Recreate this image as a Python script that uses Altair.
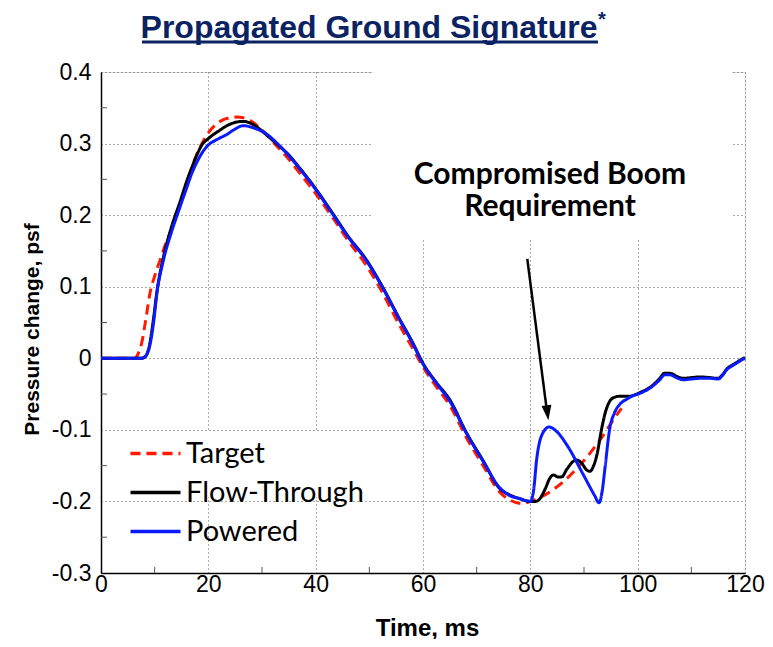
import altair as alt
import pandas as pd

# ---------------- data ----------------
time_target = [0, 6.3, 6.9, 7.6, 8.3, 9.1, 10.0, 11.0, 12.2, 13.2, 14.7, 16.0, 16.9, 17.8, 18.8,
               20.0, 22.2, 24.0, 25.3, 26.5, 27.8, 30.0, 32.7, 35.0, 37.0, 39.6, 43.3, 46.0,
               49.5, 52.0, 55.7, 58.0, 60.0, 62.5, 65.0, 68.1, 71.2, 74.3, 76.2, 78.4, 80.0,
               93.0, 96.1, 97.0]
p_target = [0, 0, 0.006, 0.022, 0.052, 0.090, 0.115, 0.137, 0.163, 0.181, 0.215, 0.246, 0.266,
            0.284, 0.300, 0.315, 0.331, 0.336, 0.337, 0.336, 0.332, 0.319, 0.297, 0.278, 0.259,
            0.234, 0.195, 0.165, 0.129, 0.098, 0.045, 0.015, -0.012, -0.040, -0.066, -0.111,
            -0.150, -0.187, -0.198, -0.203, -0.200, -0.114, -0.079, -0.070]

time_flow = [0, 7.5, 8.2, 9.0, 9.8, 10.4, 11.6, 13.2, 14.7, 16.0, 16.9, 17.8, 18.8, 20.0, 22.0,
             24.0, 26.5, 28.0, 29.6, 31.0, 33.0, 35.0, 37.0, 39.6, 43.3, 46.0, 49.5, 52.0, 55.7,
             58.0, 60.0, 62.5, 65.0, 68.1, 71.2, 74.3, 76.2, 78.0, 80.0, 81.0, 81.8, 82.8, 83.6,
             84.3, 85.2, 85.8, 86.8, 88.0, 88.6, 89.5, 90.5, 91.1, 91.8, 92.4, 93.3, 94.0, 94.8,
             95.5, 96.7, 98.5, 99.5, 100.4, 102.6, 104.0, 105.0, 106.0, 107.5, 108.5, 110.0,
             111.6, 113.5, 115.0, 115.8, 116.6, 117.5, 118.4, 119.2, 120.0]
p_flow = [0, 0, 0.002, 0.017, 0.056, 0.092, 0.140, 0.185, 0.218, 0.248, 0.266, 0.283, 0.298,
          0.307, 0.318, 0.327, 0.331, 0.328, 0.320, 0.311, 0.298, 0.284, 0.266, 0.241, 0.201,
          0.171, 0.137, 0.106, 0.054, 0.023, -0.007, -0.034, -0.058, -0.104, -0.143, -0.182,
          -0.191, -0.196, -0.200, -0.200, -0.196, -0.182, -0.168, -0.163, -0.166, -0.166,
          -0.155, -0.144, -0.142, -0.146, -0.156, -0.158, -0.150, -0.135, -0.098, -0.075,
          -0.060, -0.055, -0.053, -0.053, -0.051, -0.048, -0.039, -0.029, -0.021, -0.021,
          -0.026, -0.028, -0.027, -0.026, -0.027, -0.028, -0.023, -0.015, -0.010, -0.006,
          -0.002, 0.001]

time_powered = [0, 7.5, 8.2, 9.0, 9.8, 10.4, 11.6, 13.2, 14.7, 16.0, 16.9, 17.8, 19.1, 20.3,
                21.2, 22.2, 23.5, 24.7, 26.5, 28.4, 30.9, 33.0, 35.0, 37.0, 39.6, 43.3, 46.0,
                49.5, 52.0, 55.7, 58.0, 60.0, 62.5, 65.0, 68.1, 71.2, 74.3, 76.2, 78.0, 80.0,
                80.6, 81.2, 82.1, 83.5, 85.0, 86.8, 89.9, 92.0, 92.8, 93.4, 93.9, 94.8, 95.7,
                96.7, 98.0, 99.2, 100.4, 102.6, 104.0, 105.1, 106.0, 107.2, 108.5, 110.0, 111.6,
                113.5, 115.0, 115.8, 116.6, 117.5, 118.4, 119.2, 120.0]
p_powered = [0, 0, 0.002, 0.015, 0.050, 0.090, 0.136, 0.178, 0.211, 0.239, 0.258, 0.273, 0.290,
             0.300, 0.304, 0.308, 0.313, 0.319, 0.325, 0.322, 0.313, 0.299, 0.283, 0.265, 0.240,
             0.200, 0.170, 0.136, 0.105, 0.053, 0.022, -0.008, -0.035, -0.060, -0.105, -0.144,
             -0.181, -0.192, -0.196, -0.200, -0.185, -0.140, -0.108, -0.096, -0.103, -0.121,
             -0.163, -0.192, -0.202, -0.185, -0.154, -0.098, -0.076, -0.064, -0.057, -0.052,
             -0.049, -0.040, -0.031, -0.023, -0.023, -0.027, -0.030, -0.029, -0.028, -0.028,
             -0.029, -0.024, -0.016, -0.011, -0.007, -0.003, 0.0]

series_names = ["Target", "Flow-Through", "Powered"]
series_colors = ["#ff1a00", "#000000", "#0a1aff"]
series_dashes = [[10, 6], [1, 0], [1, 0]]

x_ticks = [0, 20, 40, 60, 80, 100, 120]
y_ticks = [-0.3, -0.2, -0.1, 0, 0.1, 0.2, 0.3, 0.4]
x_minor = [10, 30, 50, 70, 90, 110]
y_minor = [0.35, 0.25, 0.15, 0.05, -0.05, -0.15, -0.25]

arrow_t = [79.43, 83.0]
arrow_p = [0.139, -0.0686]
head_t = [83.18]
head_p = [-0.0763]

title_text = "Propagated Ground Signature"
title_mark = "*"
annotation_text = ["Compromised Boom", "Requirement"]
x_title = "Time, ms"
y_title = "Pressure change, psf"

# ---------------- build tables ----------------
rows = []
for name, ts, ps in zip(series_names, [time_target, time_flow, time_powered],
                        [p_target, p_flow, p_powered]):
    for t, p in zip(ts, ps):
        rows.append({"series": name, "t": t, "p": p})
df = pd.DataFrame(rows)

W, H = 644, 501
NAVY = "#0b2263"

xscale = alt.Scale(domain=[0, 120], nice=False, zero=False)
yscale = alt.Scale(domain=[-0.3, 0.4], nice=False, zero=False)

legend = alt.Legend(
    title=None, orient="none", legendX=40, legendY=367, padding=0,
    symbolType="M-2.5,0H2.5", symbolSize=400, symbolStrokeWidth=3.5,
    labelFont="Lato", labelFontSize=29, labelColor="black", labelOffset=16,
    rowPadding=9, labelLimit=400,
)

lines = alt.Chart(df).mark_line(strokeWidth=3, interpolate="monotone").encode(
    x=alt.X("t:Q", scale=xscale, axis=alt.Axis(
        values=x_ticks, grid=True, gridDash=[1, 3], gridColor="#555", gridWidth=1,
        ticks=False, domainColor="black", domainWidth=1.5, format="d",
        labelFont="Liberation Sans", labelFontSize=23, labelColor="black",
        labelPadding=0, labelFlush=False, labelOverlap=False,
        title=x_title, titleFont="Liberation Sans", titleFontSize=24,
        titleFontWeight="bold", titleColor="black", titlePadding=20, titleX=326)),
    y=alt.Y("p:Q", scale=yscale, axis=alt.Axis(
        values=y_ticks, grid=True, gridDash=[1, 3], gridColor="#555", gridWidth=1,
        ticks=False, domainColor="black", domainWidth=1.5,
        labelExpr="replace(format(datum.value, '.1~f'), '\u2212', '-')",
        labelFont="Liberation Sans", labelFontSize=23, labelColor="black",
        labelPadding=10, labelFlush=False, labelOverlap=False,
        title=y_title, titleFont="Liberation Sans", titleFontSize=21,
        titleFontWeight="bold", titleColor="black", titlePadding=9, titleY=257)),
    color=alt.Color("series:N", scale=alt.Scale(domain=series_names, range=series_colors),
                    legend=legend),
    strokeDash=alt.StrokeDash("series:N",
                              scale=alt.Scale(domain=series_names, range=series_dashes),
                              legend=legend),
    detail="series:N",
)

one = pd.DataFrame({"k": [0]})

# white boxes behind legend and annotation (hide grid like the reference)
legend_box = alt.Chart(one).mark_rect(color="white").encode(
    x=alt.value(8), x2=alt.value(271), y=alt.value(360), y2=alt.value(425))
note_box = alt.Chart(one).mark_rect(color="white").encode(
    x=alt.value(272), x2=alt.value(631), y=alt.value(-1), y2=alt.value(168))

xminor = alt.Chart(pd.DataFrame({"t": x_minor})).mark_rule(color="#555", strokeWidth=1).encode(
    x=alt.X("t:Q", scale=xscale), y=alt.value(H), y2=alt.value(H - 6))
yminor = alt.Chart(pd.DataFrame({"p": y_minor})).mark_rule(color="#555", strokeWidth=1).encode(
    y=alt.Y("p:Q", scale=yscale), x=alt.value(0), x2=alt.value(6))

shaft = alt.Chart(pd.DataFrame({"t": arrow_t, "p": arrow_p})).mark_line(
    color="black", strokeWidth=2.5).encode(
    x=alt.X("t:Q", scale=xscale), y=alt.Y("p:Q", scale=yscale))
head = alt.Chart(pd.DataFrame({"t": head_t, "p": head_p})).mark_point(
    shape="M-0.66,-1L0.66,-1L0,1Z", size=225, filled=True, color="black",
    opacity=1, strokeWidth=0, angle=352.6).encode(
    x=alt.X("t:Q", scale=xscale), y=alt.Y("p:Q", scale=yscale))

note = alt.Chart(one).mark_text(
    text=annotation_text, font="Lato", fontSize=30, fontWeight="bold", color="black",
    align="center", baseline="alphabetic", lineHeight=32).encode(
    x=alt.value(449), y=alt.value(112))

title = alt.Chart(one).mark_text(
    text=title_text, font="Liberation Sans", fontSize=32, fontWeight="bold", color=NAVY,
    align="center", baseline="alphabetic").encode(x=alt.value(268), y=alt.value(-34))
star = alt.Chart(one).mark_text(
    text=title_mark, font="Liberation Sans", fontSize=20, fontWeight="bold", color=NAVY,
    align="left", baseline="alphabetic").encode(x=alt.value(497), y=alt.value(-46))
underline = alt.Chart(one).mark_rule(color=NAVY, strokeWidth=3).encode(
    x=alt.value(41), x2=alt.value(497), y=alt.value(-30))

chart = alt.layer(
    legend_box, note_box, xminor, yminor, lines, shaft, head, note, title, star, underline
).properties(
    width=W, height=H,
    autosize=alt.AutoSizeParams(type="none"),
    padding={"left": 93, "top": 64, "right": 20, "bottom": 66},
).configure_view(stroke=None).configure(background="white")

chart.save("out.html", embed_options={"renderer": "svg", "actions": False})
